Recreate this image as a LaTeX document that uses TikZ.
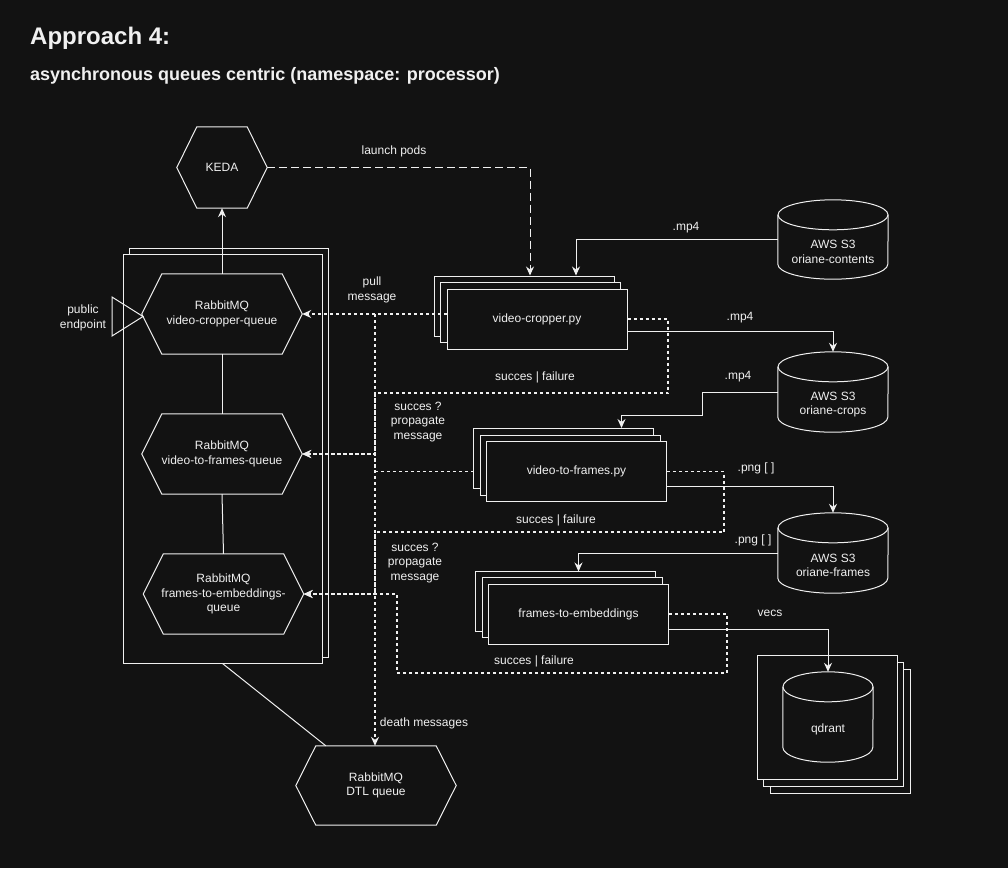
\documentclass[tikz,border=0pt]{standalone}
\usepackage{fontspec}
\setmainfont{Liberation Sans}
\usetikzlibrary{arrows.meta,calc,shadows}
\definecolor{bg}{HTML}{121212}
\definecolor{fg}{HTML}{F0F0F0}
\newcommand\hexdraw[2]{\draw[ln] (#1.west) -- ($(#1.north west)+(#2,0)$) -- ($(#1.north east)+(-#2,0)$) -- (#1.east) -- ($(#1.south east)+(-#2,0)$) -- ($(#1.south west)+(#2,0)$) -- cycle;}
\newcommand\cyldraw[2]{%
  \draw[ln] ($(#1.north west)+(0,15)$) -- ($(#1.south west)+(0,-15)$) arc[start angle=180,end angle=0,x radius=#2,y radius=15] -- ($(#1.north east)+(0,15)$);
  \draw[ln] ($(#1.north)+(0,15)$) ellipse[x radius=#2,y radius=15];}
\begin{document}
\begin{tikzpicture}[x=1pt,y=-1pt,
  every node/.style={text=fg, font=\fontsize{12}{14.5}\selectfont, align=center},
  ln/.style={draw=fg, line width=1pt},
  tip/.style={-{Stealth[length=9pt,width=8pt,inset=3pt]}},
  arr/.style={ln, tip},
  darr/.style={ln, line width=1.3pt, dash pattern=on 3pt off 3pt, tip},
  hexbox/.style 2 args={inner sep=0pt, minimum width=#1pt, minimum height=#2pt},
  cylbox/.style 2 args={inner sep=0pt, minimum width=#1pt, minimum height=#2pt},
  procbox/.style={draw=fg, fill=bg, line width=1pt, inner sep=0pt, minimum width=180pt, minimum height=60pt,
    double copy shadow={shadow xshift=-6.3pt, shadow yshift=6.5pt, fill=bg, draw=fg}},
]
\fill[bg] (0,0) rectangle (1008,868);

% titles
\node[anchor=base west, inner sep=0pt, font=\bfseries\fontsize{24}{28}\selectfont] (title) at (30,44) {Approach 4:};
\node[anchor=base west, inner sep=0pt, font=\bfseries\fontsize{18}{22}\selectfont] (subtitle) at (30,80) {asynchronous queues centric (namespace: processor)};

% left frame with queues
\node[draw=fg, fill=bg, line width=1pt, inner sep=0pt, minimum width=199pt, minimum height=409pt,
  copy shadow={shadow xshift=6pt, shadow yshift=5.5pt, fill=bg, draw=fg}] (frame) at (222.5,458.5) {};

\node[hexbox={90}{81}] (keda) at (222,167.5) {KEDA};
\hexdraw{keda}{20}
\node[hexbox={160}{80}] (q1) at (222,314) {RabbitMQ\\video-cropper-queue};
\hexdraw{q1}{20}
\node[hexbox={160}{80}] (q2) at (222,454) {RabbitMQ\\video-to-frames-queue};
\hexdraw{q2}{20}
\node[hexbox={160}{80}] (q3) at (223.5,594) {RabbitMQ\\frames-to-embeddings-\\queue};
\hexdraw{q3}{20}
\node[hexbox={160}{79}] (dtl) at (376,785.5) {RabbitMQ\\DTL queue};
\hexdraw{dtl}{20}

% public endpoint
\draw[ln] (112,297) -- (143,316.5) -- (112,336) -- cycle;
\node (pe) at (83,318) {public\\endpoint};

% processes
\node[procbox] (vc) at (537,319) {video-cropper.py};
\node[procbox] (vf) at (576.5,471.5) {video-to-frames.py};
\node[procbox] (fe) at (578.5,614) {frames-to-embeddings};

% storage
\node[cylbox={110}{79}, label={[yshift=-12.5pt]center:AWS S3\\oriane-contents}] (c1) at (833,239.5) {};
\cyldraw{c1}{55}
\node[cylbox={110}{80}, label={[yshift=-12.5pt]center:AWS S3\\oriane-crops}] (c2) at (833,392) {};
\cyldraw{c2}{55}
\node[cylbox={110}{80}, label={[yshift=-12.5pt]center:AWS S3\\oriane-frames}] (c3) at (833,553) {};
\cyldraw{c3}{55}

\node[draw=fg, fill=bg, line width=1pt, inner sep=0pt, minimum width=140pt, minimum height=124pt,
  double copy shadow={shadow xshift=6.5pt, shadow yshift=-7pt, fill=bg, draw=fg}] (qframe) at (827,717) {};
\node[cylbox={90}{90}, label={[yshift=-12pt]center:qdrant}] (qd) at (828,717) {};
\cyldraw{qd}{45}

% solid connectors
\draw[arr] (q1.north) -- (keda.south);
\draw[ln] (q1.south) -- (q2.north);
\draw[ln] (q2.south) -- (q3.north);
\draw[ln] (frame.south) -- ($(dtl.north west)+(30,0)$);
\draw[arr] (c1.west) -| ($(vc.north)+(39,-13)$);
\draw[arr] ([yshift=-12pt]vc.east) -| (c2.north);
\draw[arr] (c2.west) -| (702,415) -| ($(vf.north)+(45,-13)$);
\draw[arr] ([yshift=-15pt]vf.east) -| (c3.north);
\draw[arr] (c3.west) -| ($(fe.north)+(0,-12)$);
\draw[arr] ([yshift=-15pt]fe.east) -| (qd.north);

% dashed connectors
\draw[ln, dash pattern=on 8pt off 4pt, tip] (keda.east) -| ($(vc.north)+(-7,-13)$);
\draw[darr] (vc.west |- q1.east) -- (q1.east);
\coordinate (junction) at (375,314);
\draw[darr] (junction) -- (junction |- dtl.north);
\draw[darr] (vc.east) -| (668,393) -- (375,393) |- (q2.east);
\draw[darr] ($(vf.west)+(-12.5,0)$) -| (375,454) -- (q2.east);
\draw[darr] (vf.east) -| (724,532) -- (375,532) |- (q3.east);
\draw[darr] (fe.east) -| (727,673) -- (397,673) |- (q3.east);

% labels
\node (lpods) at (394,151) {launch pods};
\node (lpull) at (372,290) {pull\\message};
\node (lmp4a) at (686,228) {.mp4};
\node (lmp4b) at (740,318) {.mp4};
\node (lmp4c) at (738,377) {.mp4};
\node (lsf1) at (535,377) {succes | failure};
\node (lprop1) at (418,422) {succes ?\\propagate\\message};
\node (lpng1) at (756,468) {.png [ ]};
\node (lsf2) at (556,520.5) {succes | failure};
\node (lprop2) at (415,563) {succes ?\\propagate\\message};
\node (lpng2) at (753,540) {.png [ ]};
\node (lvecs) at (770,613) {vecs};
\node (lsf3) at (534,661) {succes | failure};
\node (ldeath) at (424,723) {death messages};
\end{tikzpicture}
\end{document}
